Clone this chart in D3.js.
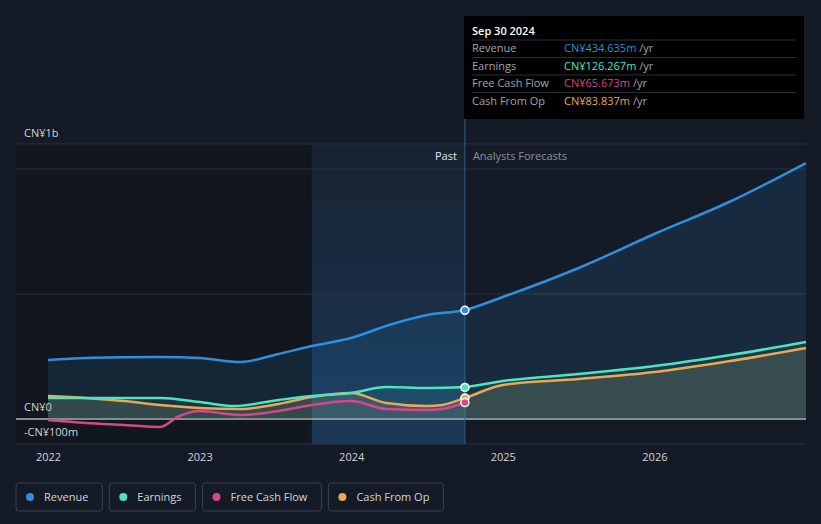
<!DOCTYPE html>
<html><head><meta charset="utf-8">
<script src="https://cdn.jsdelivr.net/npm/d3@7"></script>
<style>
body{margin:0;background:#151b26;font-family:"Open Sans",sans-serif;}
svg text{font-family:"Open Sans",sans-serif;}
</style></head>
<body><svg></svg>
<script>
// dates as fractional years, values in CN¥ millions
let revDates = [2022.0, 2022.25, 2022.5, 2022.74, 2023.0, 2023.27, 2023.52, 2023.74, 2024.0, 2024.25, 2024.5, 2024.75, 2025.0, 2025.5, 2026.0, 2026.5, 2027.0];
let revenue = [236, 244, 247, 248, 244, 228, 260, 292, 324, 376, 416, 436, 488, 604, 740, 870, 1024];
let earnDates = [2022.0, 2022.25, 2022.5, 2022.74, 2023.0, 2023.23, 2023.52, 2023.74, 2024.0, 2024.23, 2024.5, 2024.75, 2025.0, 2025.5, 2026.0, 2026.5, 2027.0];
let earnings = [84, 84, 84, 84, 68, 52, 76, 92, 104, 128, 124, 128, 152, 180, 212, 256, 308];
let fcfDates = [2022.0, 2022.25, 2022.5, 2022.74, 2022.86, 2023.0, 2023.27, 2023.52, 2023.74, 2024.0, 2024.23, 2024.5, 2024.6, 2024.75];
let fcf = [-4, -16, -24, -32, 10, 32, 16, 32, 56, 72, 40, 36, 40, 66];
let cfoDates = [2022.0, 2022.25, 2022.5, 2022.74, 2023.0, 2023.27, 2023.52, 2023.74, 2024.0, 2024.23, 2024.5, 2024.6, 2024.75, 2025.0, 2025.5, 2026.0, 2026.5, 2027.0];
let cfo = [92, 84, 72, 56, 44, 40, 60, 88, 104, 64, 52, 56, 84, 136, 160, 188, 232, 284];
let yearTicks = [2022, 2023, 2024, 2025, 2026];
let legendNames = ["Revenue", "Earnings", "Free Cash Flow", "Cash From Op"];
let colors = ["#2f8fdc", "#50e3c2", "#d6478a", "#eaa855"];
let tipRows = [["Revenue", "CN¥434.635m"], ["Earnings", "CN¥126.267m"], ["Free Cash Flow", "CN¥65.673m"], ["Cash From Op", "CN¥83.837m"]];

let w = 821, h = 524;
let svg = d3.select('svg').attr('width', w).attr('height', h);
let x = d3.scaleLinear().domain([2022, 2027]).range([48, 806]);
let y = d3.scaleLinear().domain([-100, 1100]).range([444, 144]);
let now = 2024.75, pastStart = 2023.74;

// darker history region and highlighted past region
svg.append('rect').attr('x', x(2022) - 32).attr('y', 144).attr('width', x(pastStart) - x(2022) + 32).attr('height', 300).attr('fill', '#12161f');
let g1 = svg.append('defs').append('linearGradient').attr('id', 'pg').attr('x1', 0).attr('x2', 0).attr('y1', 0).attr('y2', 1);
g1.append('stop').attr('offset', 0).attr('stop-color', '#1c3550').attr('stop-opacity', 0.3);
g1.append('stop').attr('offset', 1).attr('stop-color', '#1c3a5c').attr('stop-opacity', 0.9);
svg.append('rect').attr('x', x(pastStart)).attr('y', 144).attr('width', x(now) - x(pastStart)).attr('height', 300).attr('fill', 'url(#pg)');

// gridlines
[-100, 0, 500, 1000, 1100].forEach(v => {
  svg.append('line').attr('x1', 16).attr('x2', 806).attr('y1', y(v)).attr('y2', y(v))
    .attr('stroke', v === 0 ? '#ffffff' : '#2b3240').attr('stroke-width', 1);
});
svg.append('line').attr('x1', x(now)).attr('x2', x(now)).attr('y1', 16).attr('y2', 444).attr('stroke', '#2d5e88');

let line = d3.line().x(d => x(d[0])).y(d => y(d[1])).curve(d3.curveMonotoneX);
let area = d3.area().x(d => x(d[0])).y0(y(0)).y1(d => y(d[1])).curve(d3.curveMonotoneX);
let series = [[revDates, revenue], [earnDates, earnings], [fcfDates, fcf], [cfoDates, cfo]].map(s => s[0].map((d, i) => [d, s[1][i]]));

svg.append('path').attr('d', area(series[0])).attr('fill', '#2f8fdc').attr('opacity', 0.13);
svg.append('path').attr('d', area(series[3])).attr('fill', '#8a8060').attr('opacity', 0.25);
svg.append('path').attr('d', area(series[1])).attr('fill', '#50e3c2').attr('opacity', 0.08);
[3, 2, 1, 0].forEach(i => {
  svg.append('path').attr('d', line(series[i])).attr('fill', 'none').attr('stroke', colors[i]).attr('stroke-width', 2.5);
});
[[0, 434.6], [1, 126.3], [3, 83.8], [2, 65.7]].forEach(p => {
  svg.append('circle').attr('cx', x(now)).attr('cy', y(p[1])).attr('r', 4)
    .attr('fill', colors[p[0]]).attr('stroke', '#fff').attr('stroke-width', 1.5);
});

// y labels
[["CN¥1b", 137], ["CN¥0", 411], ["-CN¥100m", 436]].forEach(l => {
  svg.append('text').attr('x', 24).attr('y', l[1]).text(l[0]).attr('fill', '#d0d4da').attr('font-size', 11);
});
svg.append('text').attr('x', x(now) - 8).attr('y', 160).attr('text-anchor', 'end').text('Past').attr('fill', '#e0e3e8').attr('font-size', 11);
svg.append('text').attr('x', x(now) + 8).attr('y', 160).text('Analysts Forecasts').attr('fill', '#8a919c').attr('font-size', 11);

// x axis
let xAxis = d3.axisBottom(x).tickValues(yearTicks).tickFormat(d3.format('d')).tickSize(0).tickPadding(9);
let ax = svg.append('g').attr('transform', 'translate(0,' + 444 + ')').call(xAxis);
ax.select('.domain').remove();
ax.selectAll('text').attr('fill', '#d0d4da').attr('font-size', 11).attr('font-family', 'Open Sans');

// tooltip
let tip = svg.append('g').attr('transform', 'translate(464,16)');
tip.append('rect').attr('width', 340).attr('height', 103).attr('fill', '#000');
tip.append('text').attr('x', 8).attr('y', 19).text('Sep 30 2024').attr('fill', '#fff').attr('font-size', 11).attr('font-weight', 600);
tipRows.forEach((r, i) => {
  let yy = 32 + i * 17.5;
  tip.append('line').attr('x1', 8).attr('x2', 332).attr('y1', yy - 8).attr('y2', yy - 8).attr('stroke', '#2a2e36');
  tip.append('text').attr('x', 8).attr('y', yy + 4).text(r[0]).attr('fill', '#a0a6b0').attr('font-size', 11);
  let t = tip.append('text').attr('x', 100).attr('y', yy + 4).attr('font-size', 11);
  t.append('tspan').text(r[1]).attr('fill', colors[i]);
  t.append('tspan').text(' /yr').attr('fill', '#a0a6b0');
});

// legend
let lx = 16;
legendNames.forEach((n, i) => {
  let g = svg.append('g').attr('transform', 'translate(' + lx + ',483)');
  let rect = g.append('rect').attr('height', 28).attr('rx', 3).attr('fill', 'none').attr('stroke', '#3a414e');
  g.append('circle').attr('cx', 14).attr('cy', 14).attr('r', 4).attr('fill', colors[i]);
  let t = g.append('text').attr('x', 28).attr('y', 18).text(n).attr('fill', '#d0d4da').attr('font-size', 11);
  let tw = t.node().getComputedTextLength() + 42;
  rect.attr('width', tw);
  lx += tw + 7;
});
</script></body></html>
